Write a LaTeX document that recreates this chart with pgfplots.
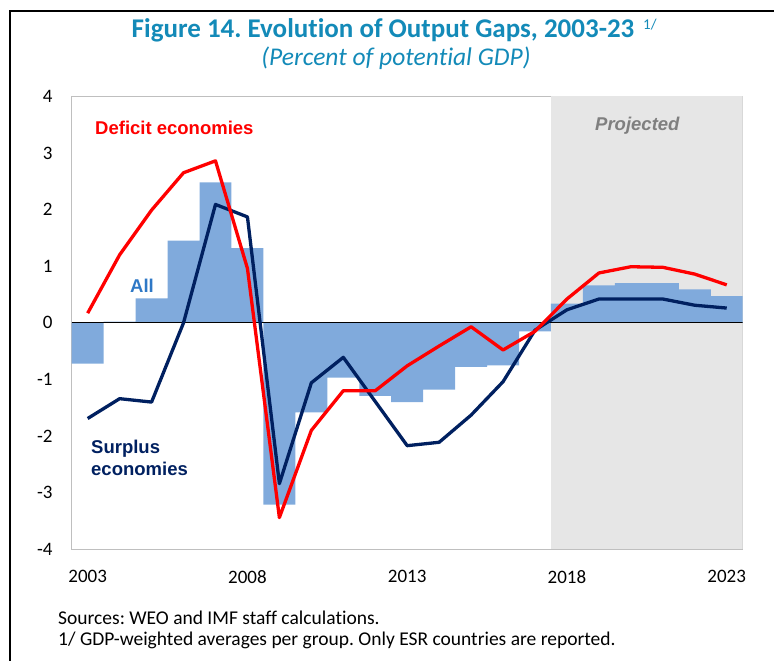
\documentclass[border=0pt]{standalone}
\usepackage{fontspec}
\setmainfont{Carlito}[Ligatures=NoCommon]
\newfontfamily\arialfont{Liberation Sans}
\usepackage{pgfplots}
\pgfplotsset{compat=1.18}
\usepackage{pgfplotstable}
\usepackage{xcolor}
\definecolor{titleblue}{HTML}{138AB8}
\definecolor{barblue}{HTML}{80AADC}
\definecolor{allblue}{HTML}{2E78C6}
\definecolor{navy}{HTML}{002060}
\definecolor{defred}{HTML}{FF0000}
\definecolor{framegray}{HTML}{BFBFBF}
\definecolor{projgray}{HTML}{E6E6E6}
\definecolor{projtext}{HTML}{7F7F7F}
\frenchspacing

\pgfplotstableread{
year  all    deficit surplus
2003 -0.72   0.17  -1.69
2004  0.02   1.20  -1.34
2005  0.43   1.99  -1.40
2006  1.45   2.65   0.00
2007  2.48   2.86   2.09
2008  1.32   0.96   1.87
2009 -3.21  -3.44  -2.84
2010 -1.58  -1.90  -1.06
2011 -0.97  -1.20  -0.61
2012 -1.29  -1.20  -1.39
2013 -1.40  -0.76  -2.17
2014 -1.18  -0.41  -2.11
2015 -0.78  -0.07  -1.63
2016 -0.75  -0.48  -1.04
2017 -0.15  -0.15  -0.13
2018  0.34   0.42   0.23
2019  0.66   0.88   0.42
2020  0.70   0.99   0.42
2021  0.70   0.98   0.42
2022  0.59   0.86   0.31
2023  0.47   0.67   0.26
}\gaps

\begin{document}
\begin{tikzpicture}[x=1pt,y=1pt]
\useasboundingbox (0,0) rectangle (774,661);
% outer frame (left and top only)
\draw[black, line width=2pt] (10,0) -- (10,650) -- (774,650);

% title
\node[anchor=base, inner sep=0pt, text=titleblue, font=\fontsize{27}{27}\selectfont\bfseries] at (383,623)
  {Figure 14. Evolution of Output Gaps, 2003-23};
\node[anchor=base west, inner sep=0pt, text=titleblue, font=\fontsize{15}{15}\selectfont] at (643,631) {1/};
\node[anchor=base, inner sep=0pt, text=titleblue, font=\fontsize{25.5}{25.5}\selectfont\itshape] at (396,595)
  {(Percent of potential GDP)};

\begin{axis}[
  at={(71.7pt,111.7pt)}, anchor=south west,
  scale only axis, width=671pt, height=453pt,
  xmin=2002.5, xmax=2023.5, ymin=-4, ymax=4,
  axis line style={draw=framegray, line width=1.3pt},
  xtick={2003,2008,2013,2018,2023},
  ytick={-4,-3,-2,-1,0,1,2,3,4},
  major tick length=0pt,
  /pgf/number format/assume math mode=true,
  /pgf/number format/set thousands separator={},
  yticklabel style={anchor=east, inner sep=0pt, xshift=-19pt, font=\fontsize{19}{19}\selectfont},
  xticklabel style={anchor=north, inner sep=0pt, yshift=-21pt, font=\fontsize{19}{19}\selectfont},
]
\fill[projgray] (axis cs:2017.5,-4) rectangle (axis cs:2023.5,4);
\addplot[ybar, bar width=1, bar shift=0pt, fill=barblue, draw=none] table[x=year, y=all] {\gaps};
\draw[black, line width=1pt] (axis cs:2002.5,0) -- (axis cs:2023.5,0);
\addplot[navy, line width=3.3pt, line join=round, no markers] table[x=year, y=surplus] {\gaps};
\addplot[defred, line width=3.3pt, line join=round, no markers] table[x=year, y=deficit] {\gaps};
\end{axis}

% series labels
\node[anchor=west, inner sep=0pt, text=defred, font=\arialfont\fontsize{18.5}{18.5}\selectfont\bfseries] at (95,533)
  {Deficit economies};
\node[anchor=west, inner sep=0pt, text=allblue, font=\arialfont\fontsize{18.5}{18.5}\selectfont\bfseries] at (130,375)
  {All};
\node[anchor=west, inner sep=0pt, text=navy, align=left, font=\arialfont\fontsize{18.5}{22}\selectfont\bfseries] at (91,203)
  {Surplus\\economies};
\node[anchor=west, inner sep=0pt, text=projtext, font=\arialfont\fontsize{18.5}{18.5}\selectfont\bfseries\itshape] at (595,535)
  {Projected};

% notes
\node[anchor=base west, inner sep=0pt, font=\fontsize{19.5}{19.5}\selectfont] at (58,36)
  {Sources: WEO and IMF staff calculations.};
\node[anchor=base west, inner sep=0pt, font=\fontsize{19.5}{19.5}\selectfont] at (58,15)
  {1/ GDP-weighted averages per group. Only ESR countries are reported.};
\end{tikzpicture}
\end{document}
